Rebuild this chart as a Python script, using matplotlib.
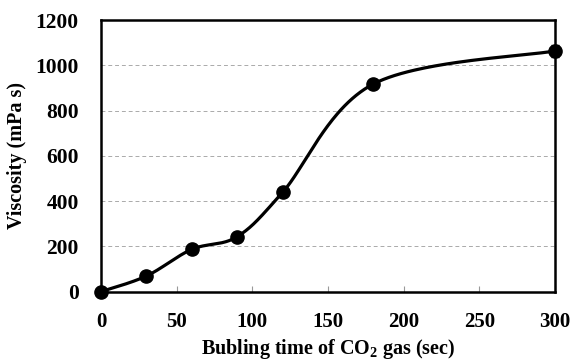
import numpy as np
import matplotlib
matplotlib.use('Agg')
import matplotlib.pyplot as plt

time_sec = [0, 30, 60, 90, 120, 180, 300]
viscosity = [0, 69, 187, 243, 439, 918, 1064]
visc_err = [0, 0, 0, 18, 0, 0, 25]

x_ticks = [0, 50, 100, 150, 200, 250, 300]
y_ticks = [0, 200, 400, 600, 800, 1000, 1200]


def smooth_curve(xs, ys, n=60):
    # Excel style smoothed line: cubic bezier with catmull-rom control points
    pts = np.column_stack([xs, ys]).astype(float)
    ext = np.vstack([pts[0], pts, pts[-1]])
    out = []
    t = np.linspace(0, 1, n)[:, None]
    for i in range(1, len(ext) - 2):
        p0, p1, p2, p3 = ext[i - 1], ext[i], ext[i + 1], ext[i + 2]
        c1 = p1 + (p2 - p0) / 6
        c2 = p2 - (p3 - p1) / 6
        seg = ((1 - t) ** 3 * p1 + 3 * (1 - t) ** 2 * t * c1
               + 3 * (1 - t) * t ** 2 * c2 + t ** 3 * p2)
        out.append(seg)
    out = np.vstack(out)
    return out[:, 0], out[:, 1]


plt.rcParams['font.family'] = 'Liberation Serif'
plt.rcParams['font.weight'] = 'bold'
plt.rcParams['mathtext.fontset'] = 'custom'
plt.rcParams['mathtext.rm'] = 'Liberation Serif:bold'
plt.rcParams['mathtext.it'] = 'Liberation Serif:bold'
plt.rcParams['mathtext.bf'] = 'Liberation Serif:bold'

fig = plt.figure(figsize=(5.71, 3.6), dpi=100)
ax = fig.add_axes([0.177, 0.19, 0.795, 0.754])

sx, sy = smooth_curve(time_sec, viscosity)
ax.plot(sx, sy, color='black', lw=2.3, clip_on=False, zorder=3)
ax.errorbar(time_sec, viscosity, yerr=visc_err, fmt='none', ecolor='black',
            elinewidth=1, capsize=3, clip_on=False, zorder=3)
ax.plot(time_sec, viscosity, 'o', color='black', ms=9.5, clip_on=False,
        zorder=4)

ax.set_xlim(0, 300)
ax.set_ylim(0, 1200)
ax.set_xticks(x_ticks)
ax.set_yticks(y_ticks)
ax.yaxis.grid(True, ls=(0, (4, 3)), color='#aaaaaa', lw=0.7)
ax.tick_params(axis='x', direction='in', length=4, width=0.8,
               color='#999999', labelsize=15, pad=15)
ax.tick_params(axis='y', length=0, labelsize=15.5, pad=16)
for s in ax.spines.values():
    s.set_linewidth(1.8)

ax.set_xlabel(r'Bubling time of CO$_2$ gas (sec)', fontsize=14.5,
              fontweight='bold', labelpad=3)
ax.set_ylabel('Viscosity (mPa s)', fontsize=14.5, fontweight='bold',
              labelpad=6)

fig.savefig('out.png', dpi=100)
